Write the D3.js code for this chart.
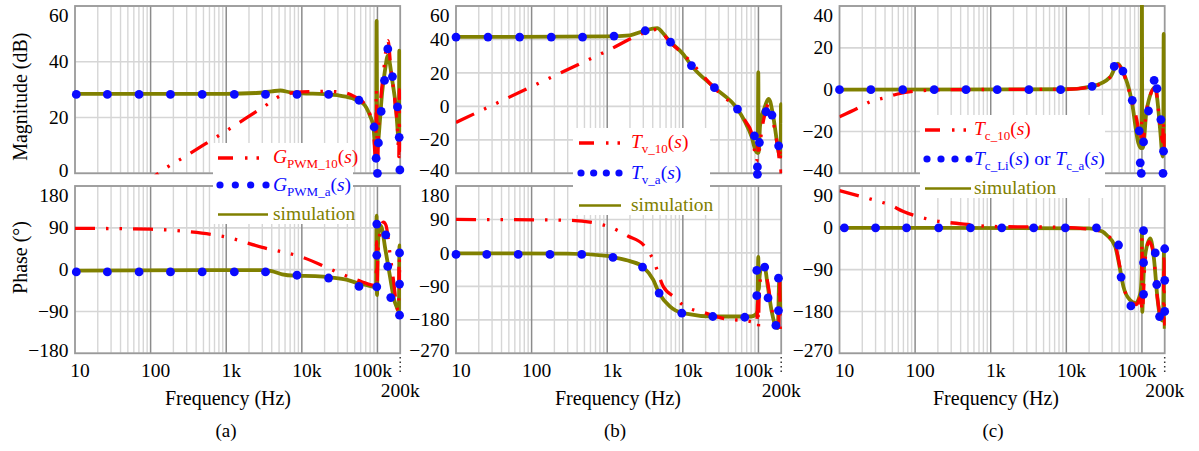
<!DOCTYPE html>
<html lang="en">
<head>
<meta charset="utf-8" />
<title>Bode plots (a) (b) (c)</title>
<script src="https://cdn.jsdelivr.net/npm/d3@7/dist/d3.min.js"></script>
<style>
    body { margin: 0; background: #fff; }
    svg text { font-family: "Liberation Serif", "Times New Roman", serif; }
</style>
</head>
<body>
<svg id="chart" width="1199" height="451" font-family="Liberation Serif, serif"></svg>
<script>
// ---------- shared frequency axis ----------
const freqDomain = [10, 200000];
const freqTicks = [10, 100, 1000, 10000, 100000];
const freqTickLabels = ["10", "100", "1k", "10k", "100k"];

// ---------- (a) G_PWM ----------
const magTicksA = [0, 20, 40, 60];
const phTicksA = [-180, -90, 0, 90, 180];
// [frequency Hz, value]
const magA_sim = [[10,28.5],[1000,28.5],[2500,28.8],[4000,29.4],[5200,29.7],[7000,29.0],[10000,28.7],[20000,28.4],[30000,28.0],[45000,27],[65000,25],[80000,20.5],[88500,16.6],[93000,9.5],[96000,8],[97500,54.7],[98500,30],[99500,9],[102000,10.8],[108600,20],[115000,28.6],[126000,37],[137000,42.2],[157000,33.3],[177000,22.6],[188000,13],[192000,10.7],[194500,44],[196500,10.7],[200000,11]];
const magA_10 = [[80,-4.7],[127,0],[300,6.4],[1000,15.2],[3000,23.5],[5500,28],[10000,29.2],[20000,29.4],[36000,29],[50000,27.5],[65000,25.5],[80000,21],[88500,16],[92000,8],[95000,3],[97000,30],[99000,8],[101000,5],[104000,18],[110000,26],[120000,36],[138000,47.6],[150000,38],[170000,26],[185000,15],[192000,6],[195000,30],[198000,8],[200000,12]];
const magA_a = [[10.4,28.3],[26.8,28.3],[70.4,28.3],[183,28.3],[481,28.3],[1280,28.3],[3310,28.3],[8630,28.3],[22600,28.3],[57000,26.2],[90400,16.6],[96000,5.4],[100000,0],[103000,10.9],[112000,22.2],[124000,33.3],[137000,44.6],[158000,34.7],[184000,23.8],[194000,12.9],[198000,1.2]];
const phA_sim = [[10,-2],[3000,-1],[4000,-3],[5500,-10],[8000,-13],[15000,-14],[25000,-17],[40000,-22],[55000,-29],[70000,-33],[93000,-37],[96000,-30],[97500,116],[98700,-55],[100500,20],[104000,80],[109000,95],[115000,88],[126000,48],[147000,-16],[167000,-66],[184000,-84],[192000,-90],[195500,52],[200000,40]];
const phA_10 = [[10,89],[100,87],[300,82],[1000,70],[3000,48],[10000,27],[32000,-8],[60000,-25],[90000,-34],[96000,-30],[97500,60],[99000,-40],[101000,30],[106000,70],[112000,95],[120000,102],[130000,95],[145000,40],[165000,-30],[180000,-80],[190000,-88],[194000,40],[197000,-40],[200000,0]];
const phA_a = [[10.4,-5],[26.8,-5],[70.4,-5],[183,-5],[481,-5],[1280,-5],[3310,-5],[8630,-12],[22600,-18],[57000,-36],[98000,98],[98000,31],[98000,-37],[129000,75],[137000,7],[150000,-60],[196000,36],[196000,-31],[196000,-98]];

// ---------- (b) T_v ----------
const magTicksB = [-40, -20, 0, 20, 40, 60];
const phTicksB = [-270, -180, -90, 0, 90, 180];
const magB_sim = [[10,41.5],[1000,41.8],[2000,42.5],[3000,45],[4000,46.5],[4600,46.8],[5400,44],[6870,38.4],[10000,31.5],[13000,24.4],[26200,11.2],[52800,-1.6],[66000,-9],[81000,-18],[92000,-26.6],[98000,-28],[99500,20.4],[100800,-27.6],[105000,-11.6],[120000,-1],[137000,4.4],[159000,-7.6],[179000,-23.6],[190000,-29.6],[197000,-30],[198500,1.4],[200000,-10]];
const magB_10 = [[10,-9.6],[100,11.8],[1000,33.2],[3300,44.4],[4600,46],[6870,38],[10000,31.5],[26000,11],[52000,-2],[70000,-10],[80000,-15],[90000,-28],[95000,-33],[98000,-20],[100000,-30],[103000,-26],[110000,-15],[125000,-3],[137000,2],[150000,-5],[170000,-18],[185000,-28],[190000,-33],[195000,-25],[198000,-38],[200000,-40]];
const magB_a = [[10,41.4],[26.5,41.4],[69.4,41.4],[182,41.4],[472,41.4],[1230,42],[3180,45.2],[6870,38.4],[13000,24.4],[26200,11.2],[52800,-1.6],[88500,-17.6],[97000,-36.2],[97000,-40.6],[103000,-21.6],[126000,-3.2],[151000,-5.2],[185000,-23.6]];
const phB_sim = [[10,-1],[300,-2],[1000,-8],[1235,-12],[2000,-22],[3000,-38],[4050,-72],[4860,-108],[6730,-144],[10000,-162],[26000,-171],[80000,-171],[93000,-165],[97000,-155],[99500,-11],[100800,-99],[104000,-60],[110000,-40],[120000,-36],[133000,-90],[150000,-158],[170000,-198],[180000,-202],[189000,-67],[195000,-130],[200000,-150]];
const phB_10 = [[10,90],[300,88],[1000,72],[1900,45],[3000,22],[4050,-18],[5500,-90],[8000,-121],[10000,-140],[20000,-162],[34000,-176],[80000,-185],[95000,-190],[98000,-130],[100000,-200],[102000,-120],[110000,-50],[118000,-40],[130000,-70],[150000,-150],[170000,-200],[185000,-210],[190000,-60],[195000,-210],[200000,-200]];
const phB_a = [[10,-4],[25.5,-4],[66.5,-4],[175,-4],[460,-4],[1190,-12],[2930,-38],[4860,-108],[9700,-162],[24900,-171],[65900,-173],[95000,-47],[95000,-115],[121000,-38],[134000,-121],[170000,-195],[184000,-68],[184000,-155]];

// ---------- (c) T_c ----------
const magTicksC = [-40, -20, 0, 20, 40];
const phTicksC = [-270, -180, -90, 0, 90];
const magC_sim = [[10,0],[10000,0.2],[22000,1.6],[38000,6],[48000,12.4],[55000,9.2],[73000,-5.1],[90000,-25.7],[97000,-28],[99000,-10],[100000,45],[101000,-25],[103000,-28],[115000,-10],[150000,1.2],[160000,-5],[175000,-20],[188000,-32],[191000,-30],[194000,26.7],[197000,-30],[200000,-25]];
const magC_10 = [[10,-13],[18,-8.6],[25,-5.9],[40,-3.8],[57,-2.2],[100,-0.7],[300,0],[10000,0.2],[22000,1.5],[38000,6],[48000,12],[55000,9],[73000,-5],[88000,-17],[95000,-25],[100000,-15],[103000,-25],[115000,-10],[150000,1],[175000,-18],[188000,-25],[192000,-15],[196000,-30],[200000,-20]];
const magC_a = [[10,0],[26,0],[68.5,0],[179,0],[471,0],[1220,0],[3200,0],[8400,0],[21900,1.6],[43000,11.1],[56000,8.9],[74500,-5.1],[92000,-19.7],[95000,-35],[98000,-40],[105000,-25],[122000,-10.2],[145000,4.4],[158000,0.5],[178000,-14.3],[193000,-29.4],[190000,-40]];
const phC_sim = [[10,0],[20000,-1],[30000,-8],[34400,-16],[44400,-41],[51600,-91],[57000,-127],[70000,-156],[81600,-162],[95000,-142],[99000,-100],[100000,-10],[101000,-181],[104000,-120],[110000,-60],[129000,-23],[145000,-70],[160000,-150],[174000,-192],[190000,-200],[196000,-45],[200000,-217]];
const phC_10 = [[10,80],[31,58],[47,49],[70,35],[123,22],[190,15],[290,11],[530,7],[1000,3],[10000,1],[20000,-3],[25000,-5],[35000,-16],[45000,-41],[52000,-91],[57000,-127],[70000,-156],[85000,-165],[95000,-150],[99000,-180],[100000,-20],[102000,-170],[110000,-70],[125000,-30],[140000,-50],[160000,-150],[180000,-195],[192000,-200],[196000,-40],[200000,-210]];
const phC_a = [[11.6,0],[30,0],[77,0],[205,0],[540,0],[1400,0],[3700,0],[9700,0],[25000,0],[49000,-37],[53000,-106],[71500,-168],[105000,-6],[105000,-75],[105000,-143],[150000,-54],[157000,-122],[171000,-191],[200000,-45],[200000,-113],[200000,-180]];

// ---------- legend labels: [text, style] ----------
const legendA = [
    [["G","i"],["PWM_10","sub"],["(",""],["s","i"],[")",""]],
    [["G","i"],["PWM_a","sub"],["(",""],["s","i"],[")",""]],
    [["simulation",""]]
];
const legendB = [
    [["T","i"],["v_10","sub"],["(",""],["s","i"],[")",""]],
    [["T","i"],["v_a","sub"],["(",""],["s","i"],[")",""]],
    [["simulation",""]]
];
const legendC = [
    [["T","i"],["c_10","sub"],["(",""],["s","i"],[")",""]],
    [["T","i"],["c_Li","sub"],["(",""],["s","i"],[")",""],[" or ",""],["T","i"],["c_a","sub"],["(",""],["s","i"],[")",""]],
    [["simulation",""]]
];

// ---------- drawing ----------
const RED = "#ff0000", BLUE = "#0a0aff", OLIVE = "#808000";
const MAG_Y = [173.3, 6];
const PH_Y = [353.3, 186];
const svg = d3.select("#chart");
const defs = svg.append("defs");

const fmt = v => (v < 0 ? "\u2212" + Math.abs(v) : String(v));

function subplot(p, key, domain, ticks, yRange, sim, ref, dots) {
    const x = d3.scaleLog().domain(freqDomain).range([p.x0, p.x1]);
    const y = d3.scaleLinear().domain(domain).range(yRange);
    const top = yRange[1], bot = yRange[0];
    const g = svg.append("g");

    // horizontal grid
    g.selectAll(null).data(ticks).join("line")
        .attr("x1", p.x0).attr("x2", p.x1)
        .attr("y1", d => y(d)).attr("y2", d => y(d))
        .attr("stroke", "#d6d6d6").attr("stroke-width", 1.6);

    // minor vertical grid (2..9 per decade)
    const minor = [];
    freqTicks.forEach(dec => {
        for (let k = 2; k < 10; k++) if (k * dec < freqDomain[1]) minor.push(k * dec);
    });
    g.selectAll(null).data(minor).join("line")
        .attr("x1", d => x(d)).attr("x2", d => x(d))
        .attr("y1", top).attr("y2", bot)
        .attr("stroke", "#d6d6d6").attr("stroke-width", 1.4);

    // decade lines
    g.selectAll(null).data(freqTicks.slice(1)).join("line")
        .attr("x1", d => x(d)).attr("x2", d => x(d))
        .attr("y1", top).attr("y2", bot)
        .attr("stroke", "#8c8c8c").attr("stroke-width", 1.5);

    // frame
    g.append("rect")
        .attr("x", p.x0).attr("y", top)
        .attr("width", p.x1 - p.x0).attr("height", bot - top)
        .attr("fill", "none").attr("stroke", "#9a9a9a").attr("stroke-width", 1.8);

    const clipId = "clip-" + key;
    defs.append("clipPath").attr("id", clipId)
        .append("rect")
        .attr("x", p.x0).attr("y", top - 1)
        .attr("width", p.x1 - p.x0 + 1).attr("height", bot - top + 2);

    const line = d3.line()
        .x(d => x(d[0])).y(d => y(d[1]))
        .curve(d3.curveMonotoneX);

    g.append("path").datum(sim)
        .attr("d", line).attr("fill", "none")
        .attr("stroke", OLIVE).attr("stroke-width", 3.8)
        .attr("stroke-linejoin", "round")
        .attr("clip-path", `url(#${clipId})`);

    g.append("path").datum(ref)
        .attr("d", line).attr("fill", "none")
        .attr("stroke", RED).attr("stroke-width", 3.3)
        .attr("stroke-dasharray", "20 11 2.5 11 2.5 11")
        .attr("clip-path", `url(#${clipId})`);

    g.selectAll(null).data(dots).join("circle")
        .attr("cx", d => x(d[0])).attr("cy", d => y(d[1]))
        .attr("r", 4.4).attr("fill", BLUE);

    // y tick labels (kept inside the frame's height)
    g.selectAll(null).data(ticks).join("text")
        .attr("x", p.x0 - 6.5)
        .attr("y", d => Math.min(Math.max(y(d), top + 9), bot - 3))
        .attr("dy", "0.34em")
        .attr("text-anchor", "end")
        .attr("font-size", 19.5)
        .attr("fill", "#000")
        .text(fmt);

    return x;
}

function richText(g, x, y, parts, color) {
    const t = g.append("text").attr("x", x).attr("y", y)
        .attr("font-size", 19.5).attr("fill", color);
    let down = false;
    parts.forEach(([s, style]) => {
        const ts = t.append("tspan").text(s);
        if (style === "i") ts.attr("font-style", "italic");
        if (style === "sub") {
            ts.attr("font-size", 13).attr("dy", 5);
            down = true;
        } else if (down) {
            ts.attr("dy", -5);
            down = false;
        }
    });
}

function legend(box, lg, labels) {
    const g = svg.append("g");
    g.append("rect")
        .attr("x", box[0]).attr("y", box[1])
        .attr("width", box[2] - box[0]).attr("height", box[3] - box[1])
        .attr("fill", "#fff");
    const [b0, b1, b2] = lg.base;
    // model 10 line
    g.append("line")
        .attr("x1", lg.lx).attr("x2", lg.lx + lg.len)
        .attr("y1", b0 - 5).attr("y2", b0 - 5)
        .attr("stroke", RED).attr("stroke-width", 3.3)
        .attr("stroke-dasharray", "15 12 2.5 9 2.5 9");
    // analytic dots
    g.selectAll(null).data(d3.range(4)).join("circle")
        .attr("cx", i => lg.lx + 2 + i * (lg.len - 4) / 3)
        .attr("cy", b1 - 6)
        .attr("r", 3.6).attr("fill", BLUE);
    // simulation line
    g.append("line")
        .attr("x1", lg.lx).attr("x2", lg.lx + lg.len)
        .attr("y1", b2 - 5.5).attr("y2", b2 - 5.5)
        .attr("stroke", OLIVE).attr("stroke-width", 2.6);
    richText(g, lg.tx, b0, labels[0], RED);
    richText(g, lg.tx, b1, labels[1], BLUE);
    richText(g, lg.tx, b2, labels[2], OLIVE);
}

function xAxisLabels(p, x, caption) {
    const g = svg.append("g").attr("fill", "#000");
    g.selectAll(null).data(freqTicks).join("text")
        .attr("x", (d, i) => x(d) + (i === freqTicks.length - 1 ? -5 : 5))
        .attr("y", 377)
        .attr("text-anchor", "middle")
        .attr("font-size", 19.5)
        .text((d, i) => freqTickLabels[i]);
    g.append("line")
        .attr("x1", x(freqDomain[1])).attr("x2", x(freqDomain[1]))
        .attr("y1", 357).attr("y2", 372)
        .attr("stroke", "#333").attr("stroke-width", 1.5)
        .attr("stroke-dasharray", "1.5 3");
    g.append("text")
        .attr("x", x(freqDomain[1])).attr("y", 397)
        .attr("text-anchor", "middle").attr("font-size", 19.5)
        .text("200k");
    g.append("text")
        .attr("x", p.fx).attr("y", 405)
        .attr("text-anchor", "middle").attr("font-size", 20)
        .text("Frequency (Hz)");
    g.append("text")
        .attr("x", p.cx).attr("y", 437)
        .attr("text-anchor", "middle").attr("font-size", 19)
        .text(caption);
}

const panels = [
    {key: "a", x0: 75, x1: 400.2, fx: 228, cx: 226,
     mag: [magTicksA, magA_sim, magA_10, magA_a], ph: [phTicksA, phA_sim, phA_10, phA_a],
     box: [213, 143, 353, 224], lg: {lx: 218, len: 50, tx: 273, base: [163, 191, 220]}, labels: legendA},
    {key: "b", x0: 456, x1: 781.2, fx: 618, cx: 615,
     mag: [magTicksB, magB_sim, magB_10, magB_a], ph: [phTicksB, phB_sim, phB_10, phB_a],
     box: [573, 128, 710, 215], lg: {lx: 579, len: 42, tx: 631, base: [148, 179, 211]}, labels: legendB},
    {key: "c", x0: 839.5, x1: 1164.7, fx: 996, cx: 993,
     mag: [magTicksC, magC_sim, magC_10, magC_a], ph: [phTicksC, phC_sim, phC_10, phC_a],
     box: [920, 115, 1105, 198], lg: {lx: 925, len: 46, tx: 974, base: [135, 165, 194]}, labels: legendC}
];

panels.forEach(p => {
    const mt = p.mag[0], pt = p.ph[0];
    const x = subplot(p, p.key + "m", [mt[0], mt[mt.length - 1]], mt, MAG_Y, p.mag[1], p.mag[2], p.mag[3]);
    subplot(p, p.key + "p", [pt[0], pt[pt.length - 1]], pt, PH_Y, p.ph[1], p.ph[2], p.ph[3]);
    legend(p.box, p.lg, p.labels);
    xAxisLabels(p, x, "(" + p.key + ")");
});

// y-axis titles (left panel only)
svg.append("text")
    .attr("transform", "translate(26.5,96.7) rotate(-90)")
    .attr("text-anchor", "middle").attr("font-size", 20).attr("fill", "#000")
    .text("Magnitude (dB)");
svg.append("text")
    .attr("transform", "translate(26.5,257.5) rotate(-90)")
    .attr("text-anchor", "middle").attr("font-size", 20).attr("fill", "#000")
    .text("Phase (\u00b0)");
</script>
</body>
</html>
